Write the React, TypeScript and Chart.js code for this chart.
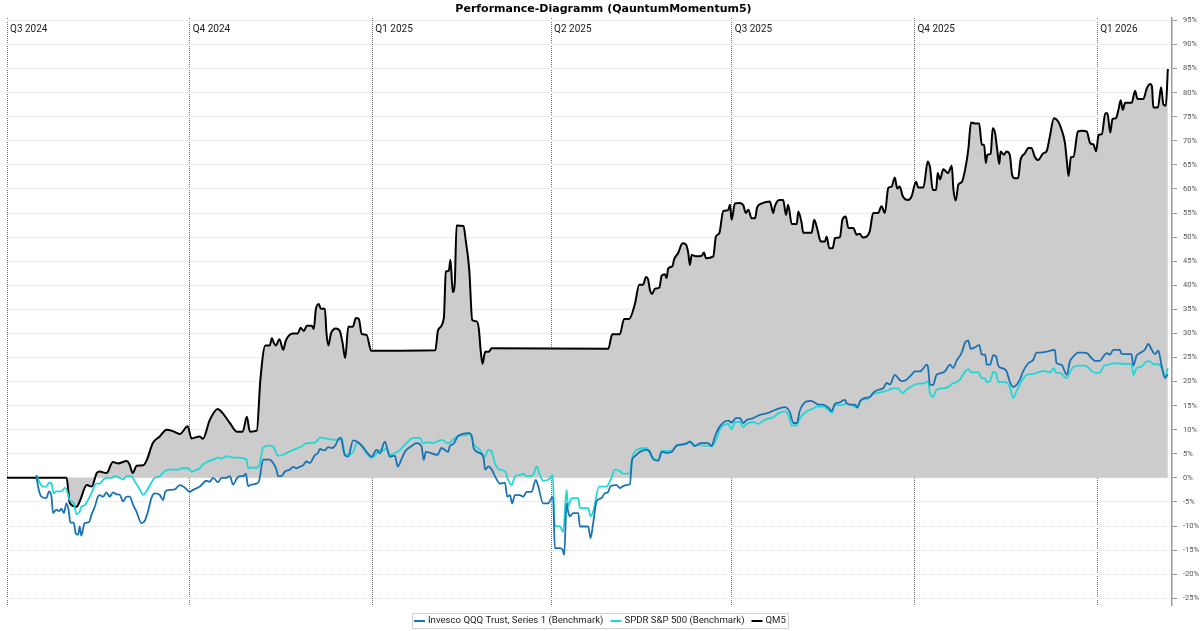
import { useEffect, useRef } from 'react';
import { Chart, registerables } from 'chart.js';

Chart.register(...registerables);

// x values are calendar days counted from 1 July 2024
const quarterDays = [0, 92, 184, 274, 365, 457, 549];
const quarterLabels = ['Q3 2024', 'Q4 2024', 'Q1 2025', 'Q2 2025', 'Q3 2025', 'Q4 2025', 'Q1 2026'];
const seriesLabels = ['Invesco QQQ Trust, Series 1 (Benchmark)', 'SPDR S&P 500 (Benchmark)', 'QM5'];
const seriesColors = ['#1a72b4', '#22d6d6', '#000000'];

// [day, performance %]
const qqqSeries: [number, number][] = [
  [14.8, 0.5], [15.6, -1.7], [17.3, -3.9], [19.8, -4.2], [21.2, -2.8], [22.4, -3.9], [23.2, -7.3], [24.9, -6.6], [26.2, -6.9], [27.4, -6.4],
  [28.7, -7.3], [29.9, -5.3], [31.1, -6.9], [31.9, -9.3], [33.6, -9.3], [34.6, -11.5], [35.8, -11.8], [36.6, -10.1], [37.4, -12], [39.1, -9.4],
  [41.3, -9.2], [42.5, -7.7], [44.2, -6], [45.8, -3.9], [46.7, -3.6], [48.4, -3.9], [50.1, -3], [51.7, -3.9], [53.4, -3], [55.1, -3.4],
  [56.8, -3.5], [58.4, -4.9], [60.2, -3.9], [61.8, -3.9], [63.5, -5.6], [65.2, -7], [67.7, -9.4], [69.4, -8.9], [71, -7], [72.7, -4.2],
  [74.4, -3.2], [76.9, -3.5], [78.6, -4.6], [79.8, -2.8], [82, -2.5], [84.5, -2.4], [87, -1.5], [89.5, -2], [92, -2.9], [93.7, -2.5],
  [97.1, -1.8], [100.5, -0.6], [102.1, -0.8], [103.8, 0], [106.3, -0.9], [108, 0], [110.5, 0], [112.2, 0.35], [113.9, -1.4], [115.6, -0.2],
  [117.2, 0.35], [118.9, 0.35], [120.3, 0.9], [121.4, -1.7], [123.1, -1.4], [125.6, -1.2], [126.9, -0.7], [129, 3.8], [132.3, 3.8], [134, 3.1],
  [135.7, 1.7], [136.5, 0.35], [138.2, 0.35], [139.9, 1.3], [142.4, 1.7], [144.1, 2.3], [145.8, 2], [147.3, 2.3], [149.1, 2.6], [150.8, 3.4],
  [152.5, 3.1], [155, 4.7], [156.7, 5.2], [157.5, 6], [160, 5.7], [161.7, 6.4], [163.4, 6.2], [165.1, 6.6], [167.6, 8.3], [168.5, 7.8],
  [170.1, 4.7], [171.8, 4.4], [174.3, 7.8], [176.8, 7.4], [178.5, 6.7], [181.1, 5.4], [183.6, 4.4], [186.1, 5.8], [187.8, 5.1], [190.3, 7.5],
  [192.8, 4.4], [195.3, 4.6], [196.8, 2.4], [198.8, 4], [200.4, 5.4], [203.7, 6.6], [206.2, 7.2], [208.7, 6.6], [209.9, 3.7], [210.9, 5.4],
  [216.8, 4.8], [218.8, 6.2], [222.2, 5.4], [223, 6.6], [224.7, 7], [227.2, 8.7], [232.5, 9.3], [234.2, 8.5], [235, 6.2], [238.3, 5.1],
  [240, 4.2], [240.8, 1.7], [242.5, 2.4], [244.2, 1.7], [245.8, 0.3], [248.3, -1.2], [250.8, -1], [251.9, -3.9], [253.3, -3.6], [254.4, -5.3],
  [255.8, -3.6], [258.3, -3.6], [260, -3.9], [261.7, -2.9], [264.2, -2.9], [266.3, -0.4], [267.5, -1.7], [270, -5.3], [272.5, -5.3], [274.2, -4.2],
  [275, -4], [275.9, -14.6], [278.4, -14.6], [279.8, -14.9], [280.6, -16], [281.8, -5.3], [282.6, -7], [283.5, -8], [285.1, -7.3], [287.7, -7.3],
  [288.5, -10.1], [292.7, -10.1], [293.9, -12.5], [295.2, -9.4], [296.9, -4.9], [299.4, -4.2], [301.1, -3.2], [302.6, -3], [304, -1.7], [307, -1.5],
  [308.6, -2.1], [310.3, -1.7], [312, -1.5], [313.7, -1.3], [314.8, 3.7], [316.2, 4.5], [318.7, 5.4], [322.1, 5.8], [323.8, 5.4], [325.4, 3.9],
  [328, 3.6], [329.7, 5.4], [332.2, 5.2], [334.7, 5.4], [337.2, 6.7], [339.7, 6.9], [342.2, 7.1], [343.9, 7.5], [346.4, 6.6], [349.1, 7.2],
  [353.2, 7.2], [354.9, 6.6], [356.5, 8.6], [359, 10.7], [363.2, 11.9], [364.9, 11.5], [367.1, 12.4], [369.1, 12.4], [370.8, 11.4], [372.5, 12],
  [375.8, 12.4], [379.2, 13.1], [383.4, 13.5], [385, 13.8], [389.3, 14.5], [391.8, 14.7], [393.3, 14.3], [394.3, 13.6], [396, 11.4], [397.8, 11.4],
  [399.3, 14], [402.7, 15.9], [404.9, 16], [406.9, 15.6], [408.6, 15.2], [410.9, 15.2], [413.6, 14.6], [415.3, 13.9], [417, 15.4], [419.5, 15.7],
  [422, 16.2], [422.9, 15.5], [424.6, 15.2], [427.1, 15.2], [428.2, 14.6], [429.6, 15.9], [432.1, 16.6], [434.6, 16.8], [436.3, 17.7], [438.8, 18.3],
  [441.3, 18.6], [443, 19.7], [444.7, 19.4], [447.1, 21.4], [448.8, 20.7], [450.5, 20.1], [453, 20.4], [455.5, 21.4], [457.2, 22.1], [459.7, 22.1],
  [461.4, 22.7], [463.1, 23.5], [463.9, 22.8], [464.8, 19.3], [466.4, 19.3], [468.1, 21.4], [469.8, 21.7], [472.3, 22.1], [474.9, 23.5], [476.5, 22.8],
  [478.2, 24.3], [480.8, 26], [482.5, 28.1], [484.1, 28.5], [485.3, 26.8], [487.5, 27.1], [489.6, 27.6], [490.9, 25.6], [492.6, 25.6], [493.4, 23.5],
  [495.1, 23.5], [496.7, 25.5], [498.1, 25.2], [499.3, 23.2], [501, 22.8], [503.4, 22.1], [505, 20], [506.7, 18.9], [508.4, 19.3], [510.1, 20.4],
  [511.7, 22.1], [514.3, 23.8], [516.8, 24.5], [518.5, 26], [520.1, 26], [523.5, 26.2], [526, 26.5], [527.7, 26.6], [528.5, 23.9], [531, 23.5],
  [533.7, 21.4], [535.3, 24.2], [537, 25.2], [539.5, 26], [542, 26], [543.8, 25.9], [546.3, 24.8], [547.9, 24.3], [550.4, 24.3], [552.1, 25.2],
  [553.8, 25.9], [555.5, 25.6], [557.1, 26.6], [560.5, 26.6], [561.3, 25.7], [566.3, 25.7], [567.2, 23.3], [568.9, 25.4], [570.5, 25.9], [573, 26.6],
  [574.8, 27.8], [576.5, 26.6], [578.1, 25.7], [579.8, 26.4], [581.5, 23.2], [583.2, 20.7], [584.6, 21.5],
];

const spySeries: [number, number][] = [
  [14.8, 0.6], [16.1, -0.7], [18.1, -1.8], [19.8, -1.8], [21.2, -1], [22.4, -1.2], [23.5, -3.2], [24.9, -2.8], [27.4, -2.8], [29.1, -2.1],
  [29.9, -2.4], [31.6, -4.6], [33.6, -5.2], [35, -7.5], [36.6, -7], [37.4, -6], [39.1, -5.7], [40.8, -4.6], [42.5, -3.2], [45, -1.2],
  [46.7, -1.2], [48.4, -0.4], [50.1, 0], [52.6, 0], [54.3, 0.35], [56.8, 0], [58.4, -0.35], [60.2, 0.35], [62.7, 0.35], [64.3, -0.7],
  [66.9, -2.4], [68.5, -3.5], [70.2, -2.8], [72.7, -1], [74.4, 0], [76.9, 0.35], [79.4, 1.4], [81.9, 1.7], [83.6, 1.7], [86.1, 1.7],
  [87.9, 2], [91.2, 2], [92.9, 1.3], [95.4, 1.7], [97.1, 2], [98.7, 2.8], [101.3, 3.4], [103.8, 3.8], [106.3, 4.2], [108, 4],
  [110.5, 4.5], [113.9, 4.2], [116.4, 4.2], [120.6, 3.8], [121.4, 2.1], [125.6, 2.1], [126.9, 2.4], [129, 6.3], [131.5, 6.7], [134, 6.5],
  [136.5, 4.6], [139, 4.8], [142.4, 5.5], [144.1, 5.8], [148.2, 6.5], [150.8, 7.2], [153.3, 7.2], [155.8, 7.5], [157.5, 8.4], [160, 8.2],
  [163.4, 8], [165.1, 7.9], [167.6, 8.1], [168.5, 8.4], [170.1, 5.1], [171.8, 4.8], [174.3, 5.3], [176.1, 7.2], [178.6, 6.9], [181.1, 5.1],
  [183.6, 4.2], [185.2, 4.6], [187.8, 5.8], [189.5, 5.6], [191.2, 6.2], [192.8, 4.8], [195.3, 5.1], [197.8, 5.8], [201.2, 7.2], [204.6, 8.3],
  [207.9, 8.3], [209.6, 7.2], [211.3, 7.4], [214.6, 7.2], [218.8, 7.9], [222.2, 7.2], [224.7, 7.9], [227.2, 8.7], [231.4, 8.9], [233.1, 9.3],
  [234.8, 7.2], [238.1, 5.8], [240.7, 4.4], [242.3, 5.8], [244, 5.5], [245.7, 3], [248.2, 1.7], [250.7, 1.4], [252.4, -0.4], [254.1, -1.5],
  [255.8, 0.3], [258.3, 0.6], [260, 0.8], [261.7, 0.3], [265, 0.6], [266.7, 2.4], [268.4, 0.6], [270, -0.6], [272.5, -0.4], [274.8, 0.6],
  [275.9, -9.8], [278.4, -10.1], [280.1, -11.2], [281.8, -2.5], [282.6, -5.9], [284.3, -4.2], [287.7, -4.2], [288.5, -6.3], [292.7, -6.3], [293.9, -8],
  [295.2, -7], [298.2, -1.8], [301.9, -1.8], [304.4, 0], [306.1, 1.7], [308.6, 1.4], [310.3, 0.9], [313.7, 0.9], [314.8, 4], [317, 5.8],
  [322.1, 6.2], [324.6, 4.4], [328, 3.6], [329.7, 5.6], [334.7, 5.6], [337.2, 6.7], [342.2, 7.2], [343.9, 7.6], [346.4, 6.8], [349.1, 6.8],
  [354.9, 6.6], [357.4, 8.2], [359, 10.1], [363.2, 11.2], [364.9, 10.1], [366.6, 11.6], [369.1, 11.6], [370.8, 10.6], [372.5, 11.2], [375.8, 11.6],
  [378.3, 11.2], [380.9, 11.9], [383.4, 12.3], [385.9, 12.6], [388.4, 13.4], [391.8, 13.8], [393.4, 13.1], [395.2, 10.9], [397.7, 10.9], [399.3, 12.4],
  [402.7, 13.8], [406, 14.4], [407.7, 14.8], [411.1, 14.8], [413.6, 14.1], [415.3, 13.5], [417, 15.1], [420.4, 15.1], [422.9, 15.4], [425.4, 15.1],
  [428.2, 14.6], [430.4, 16.3], [432.9, 16.3], [435.5, 17.3], [438, 17.6], [441.3, 17.9], [443.8, 18.2], [446.3, 18.6], [448.8, 18.6], [451, 17.6],
  [453, 18.3], [455.5, 19], [458.1, 19.5], [461.4, 19.6], [463.9, 20], [464.8, 17.6], [466.4, 16.8], [468.1, 18.3], [471.5, 18.6], [474.1, 18.9],
  [475.8, 19.5], [478.2, 19.9], [479.9, 20.4], [482.5, 22.1], [484.1, 22.6], [485.8, 21.9], [489.2, 21.9], [490.9, 20.7], [492.6, 20.6], [493.4, 19.9],
  [495.1, 20.1], [496.7, 22], [498.1, 21.6], [499.3, 19.9], [502.6, 19.9], [505, 18.9], [506.7, 16.6], [508.4, 18], [511, 20.1], [513.5, 21.4],
  [516.9, 21.6], [519.3, 21.9], [521.8, 22.2], [525.3, 21.9], [527.2, 22.8], [528.2, 21.9], [530.3, 21.8], [532.8, 20.9], [533.7, 20.7], [535.3, 22],
  [537, 23], [539.5, 23.3], [542.9, 23.3], [544.6, 22.9], [546.3, 22.2], [547.9, 21.8], [550.4, 21.9], [552.5, 23.3], [554.7, 23.5], [557.1, 23.8],
  [562.2, 23.7], [566.4, 23.6], [567.2, 21.4], [568.9, 22.8], [571.4, 23.1], [574, 24.2], [575.7, 24.2], [577.3, 23.6], [579.8, 23.6], [581.5, 22.8],
  [583.2, 21.1], [584.6, 22.8],
];

const qm5Series: [number, number][] = [
  [0, 0], [30, 0], [31.6, -5.2], [35.1, -6], [36.6, -4.9], [40.2, -1.5], [42.7, -1.8], [45.2, 1], [46.7, 1.3], [50.1, 1],
  [53.3, 3.3], [55.8, 3], [60.3, 3.5], [61.8, 2.7], [63.3, 1], [65.3, 2.5], [68.5, 2.6], [70.4, 3.7], [73.4, 7.2], [76.9, 8.6],
  [80.4, 10], [83.5, 9.7], [87, 9.1], [91, 10.7], [92.9, 8.2], [97.1, 8.6], [98.6, 8.1], [102.1, 12], [106.1, 14.3], [108.7, 13.4],
  [112.2, 11.4], [115.7, 9.6], [118.7, 9.6], [120.8, 12.7], [122.3, 9.6], [125.8, 9.8], [127.6, 20.4], [130.1, 27.5], [132.3, 27.5], [133.4, 29],
  [134.4, 28], [135.4, 27.5], [137.2, 28.8], [139.1, 26.6], [140.4, 28.5], [143.9, 30], [146.5, 30], [147.8, 31.2], [149.5, 30.5], [151, 31.6],
  [153.5, 31.6], [154.5, 30.9], [155.5, 34.9], [157, 36.1], [158.1, 35.1], [160.1, 35.1], [160.9, 30], [161.9, 27.5], [163.1, 29.9], [165.6, 31],
  [167.6, 30.5], [169, 28], [170.3, 24.9], [171.9, 31.4], [174.2, 31.4], [175.7, 33.2], [177.2, 33], [178.6, 29.9], [181.1, 29.7], [183.4, 26.4],
  [215.7, 26.5], [217.1, 30.7], [220, 33.2], [221, 42.8], [222.5, 43], [223.3, 45.3], [224.5, 38.6], [225.5, 40.5], [226.4, 52.4], [229.9, 52.3],
  [231, 49.4], [232.8, 43.2], [234.3, 32.8], [236.6, 32.5], [237.6, 31], [238.6, 26.2], [239.5, 23.7], [240.8, 26.2], [242.6, 26.2], [244.1, 26.9],
  [302.8, 26.8], [304.8, 29.8], [308.6, 29.8], [310.8, 33], [313.3, 33], [316.2, 36.1], [318.4, 40.1], [320.3, 40.1], [321.8, 41.7], [322.8, 41.3],
  [323.8, 39], [324.9, 38.2], [326.3, 39.3], [328.5, 39.5], [329.7, 42], [331.3, 42.3], [332.2, 41.5], [333, 43.5], [335.2, 44], [335.9, 45.3],
  [338, 46.7], [340.2, 48.7], [341.8, 48.5], [343.1, 46.7], [343.9, 44.2], [344.8, 46.3], [347, 46], [349.8, 46.1], [351, 46.8], [352, 45.6],
  [355.7, 46], [357, 50.1], [358.7, 50.8], [360.7, 55.4], [363.2, 55.6], [364.1, 56.7], [364.9, 53.6], [366.6, 57], [369.1, 57.1], [370.8, 56.6],
  [372.1, 55], [373.3, 55.7], [375, 53.9], [376.7, 53.9], [377.8, 56.2], [380.1, 57], [384.2, 57.4], [385.9, 55], [386.7, 56.4], [388.9, 57.7],
  [390.9, 57.7], [392.3, 54.6], [393.4, 56.7], [395.2, 52.7], [397.7, 52.7], [398.5, 55.3], [400.2, 52.9], [401, 50.9], [405.2, 50.9], [406.5, 53.6],
  [408, 51.8], [409.8, 49.1], [411.9, 49.1], [412.8, 50.1], [414.1, 47.7], [415.8, 47.7], [417, 49.8], [419.5, 50], [420.7, 53.6], [422.4, 54.3],
  [423.7, 51.9], [426.2, 51.9], [427.9, 50.5], [429.5, 50.7], [430.9, 49.9], [432.9, 50.1], [434.5, 51.2], [436.2, 55], [438.7, 55], [440.4, 56.4],
  [442.1, 55], [443.8, 60.2], [445.5, 60.5], [447.1, 62.4], [448.3, 60.1], [449.6, 60.5], [451, 58.6], [453.8, 57.7], [455.5, 58.4], [457.8, 61.5],
  [458.9, 60.3], [461.5, 60.3], [463.7, 65.7], [464.9, 64.3], [466.2, 59.8], [467.9, 59.8], [468.7, 63.3], [469.9, 62], [471.5, 64.1], [473.9, 63.3],
  [475.8, 64.8], [476.6, 60], [477.8, 57.6], [479.1, 60.9], [480.8, 61.4], [482.5, 64], [484.1, 68.1], [485.5, 73.8], [487.6, 73.6], [489.6, 73.6],
  [490.9, 69.2], [492.1, 69.2], [492.9, 65.4], [493.7, 67.1], [495.4, 67.3], [496.4, 72.6], [497.6, 71.6], [498.7, 68.1], [499.7, 65.2], [500.4, 67.8],
  [502, 67.1], [503.4, 67.8], [505, 67.1], [506.2, 62.9], [507.5, 62.2], [509.2, 62.2], [510.4, 66], [512.6, 67.4], [514.4, 68.5], [515.9, 68.5],
  [517.6, 66.7], [519.3, 66], [521.8, 67.4], [523.5, 67.8], [525.2, 70.9], [527.2, 74.7], [529.4, 74], [531.1, 72.3], [532.8, 69.5], [533.7, 66],
  [534.6, 62.7], [535.8, 66.6], [537.1, 66.7], [539.3, 71.9], [541.3, 72.1], [543.8, 71.9], [545.5, 69.5], [547.2, 69.2], [548.5, 67.8], [549.7, 71.2],
  [551.4, 71.4], [553.1, 75.7], [554.2, 75.7], [555.6, 71.7], [556.7, 74.5], [558.5, 74.7], [559.7, 76.4], [560.9, 78.4], [561.9, 76.4], [563.1, 77.9],
  [566.4, 77.9], [568.1, 80.4], [569.3, 78.7], [572.3, 78.7], [574, 80.9], [575.7, 81.8], [576.6, 81.3], [577.3, 76.9], [579.6, 76.9], [581.2, 81.1],
  [582.4, 77.5], [583.6, 77.3], [584.6, 84.9],
];

const toPoints = (series: [number, number][]) => series.map(([x, y]) => ({ x, y }));

// Quarter names written just right of each quarter gridline
const quarterLabelPlugin = {
  id: 'quarterLabels',
  afterDatasetsDraw(chart: any) {
    const { ctx, chartArea, scales } = chart;
    ctx.save();
    ctx.font = '10px Roboto';
    ctx.fillStyle = '#1a1a1a';
    ctx.textBaseline = 'middle';
    ctx.textAlign = 'left';
    quarterDays.forEach((d, i) => {
      const x = scales.x.getPixelForValue(d);
      ctx.fillText(quarterLabels[i], x + 3, chartArea.top + 11);
    });
    ctx.restore();
  },
};

// Framed legend row centred under the plot
const boxedLegendPlugin = {
  id: 'boxedLegend',
  afterDraw(chart: any) {
    const { ctx, width, height } = chart;
    ctx.save();
    ctx.font = '9.6px Roboto';
    const marker = 11;
    const textGap = 3;
    const itemGap = 7;
    const padX = 2;
    const items = seriesLabels.map((label, i) => ({ label, color: seriesColors[i], w: ctx.measureText(label).width }));
    const total = items.reduce((s, it) => s + marker + textGap + it.w, 0) + itemGap * (items.length - 1) + padX * 2;
    const left = Math.round((width - total) / 2);
    const top = height - 18;
    const boxH = 15;
    ctx.strokeStyle = '#d2d2d2';
    ctx.lineWidth = 1;
    ctx.strokeRect(left + 0.5, top + 0.5, Math.round(total), boxH);
    const cy = top + boxH / 2 + 0.5;
    let x = left + padX;
    ctx.textBaseline = 'middle';
    ctx.textAlign = 'left';
    items.forEach((it) => {
      ctx.strokeStyle = it.color;
      ctx.lineWidth = 2;
      ctx.beginPath();
      ctx.moveTo(x, cy);
      ctx.lineTo(x + marker, cy);
      ctx.stroke();
      x += marker + textGap;
      ctx.fillStyle = '#222';
      ctx.fillText(it.label, x, cy);
      x += it.w + itemGap;
    });
    ctx.restore();
  },
};

export default function App() {
  const canvasRef = useRef<HTMLCanvasElement>(null);

  useEffect(() => {
    if (!canvasRef.current) return;
    const chart = new Chart(canvasRef.current, {
      type: 'line',
      data: {
        datasets: [
          {
            label: seriesLabels[0],
            data: toPoints(qqqSeries),
            borderColor: seriesColors[0],
            borderWidth: 1.8,
            pointRadius: 0,
            cubicInterpolationMode: 'monotone',
            fill: false,
          },
          {
            label: seriesLabels[1],
            data: toPoints(spySeries),
            borderColor: seriesColors[1],
            borderWidth: 1.8,
            pointRadius: 0,
            cubicInterpolationMode: 'monotone',
            fill: false,
          },
          {
            label: seriesLabels[2],
            data: toPoints(qm5Series),
            borderColor: seriesColors[2],
            backgroundColor: '#cccccc',
            borderWidth: 2,
            pointRadius: 0,
            cubicInterpolationMode: 'monotone',
            fill: 'origin',
          },
        ],
      },
      options: {
        responsive: false,
        animation: false,
        devicePixelRatio: 1,
        layout: { padding: { left: 7, right: 0, top: 0, bottom: 26 } },
        plugins: {
          legend: { display: false },
          tooltip: { enabled: false },
          title: {
            display: true,
            text: 'Performance-Diagramm (QauntumMomentum5)',
            font: { family: 'DejaVu Sans', size: 11, weight: 'bold' },
            color: '#000',
            padding: { top: 2.5, bottom: 2.3 },
          },
        },
        scales: {
          x: {
            type: 'linear',
            min: 0,
            max: 586.7,
            afterBuildTicks: (scale: any) => {
              scale.ticks = quarterDays.map((value) => ({ value }));
            },
            afterFit: (scale: any) => {
              scale.height = 0;
            },
            ticks: { display: false },
            grid: { color: '#707070', drawTicks: false, tickLength: 0 },
            border: { display: false, dash: [1, 1] },
          },
          y: {
            position: 'right',
            min: -26.4,
            max: 95.5,
            afterFit: (scale: any) => {
              scale.width = 28;
            },
            ticks: {
              stepSize: 5,
              includeBounds: false,
              callback: (v: any) => `${v}%`,
              font: { family: 'Roboto', size: 7.5 },
              color: '#555',
              padding: 6,
            },
            grid: { color: '#dcdcdc', tickLength: 5, tickColor: '#999', tickBorderDash: [] },
            border: { display: true, color: '#9a9a9a', width: 1.5, dash: [1, 1] },
          },
        },
      } as any,
      plugins: [quarterLabelPlugin, boxedLegendPlugin],
    });
    return () => chart.destroy();
  }, []);

  return (
    <div style={{ position: 'fixed', left: 0, top: 0, width: 1200, height: 631, background: '#fff' }}>
      <canvas ref={canvasRef} width={1200} height={631} style={{ display: 'block' }} />
    </div>
  );
}
